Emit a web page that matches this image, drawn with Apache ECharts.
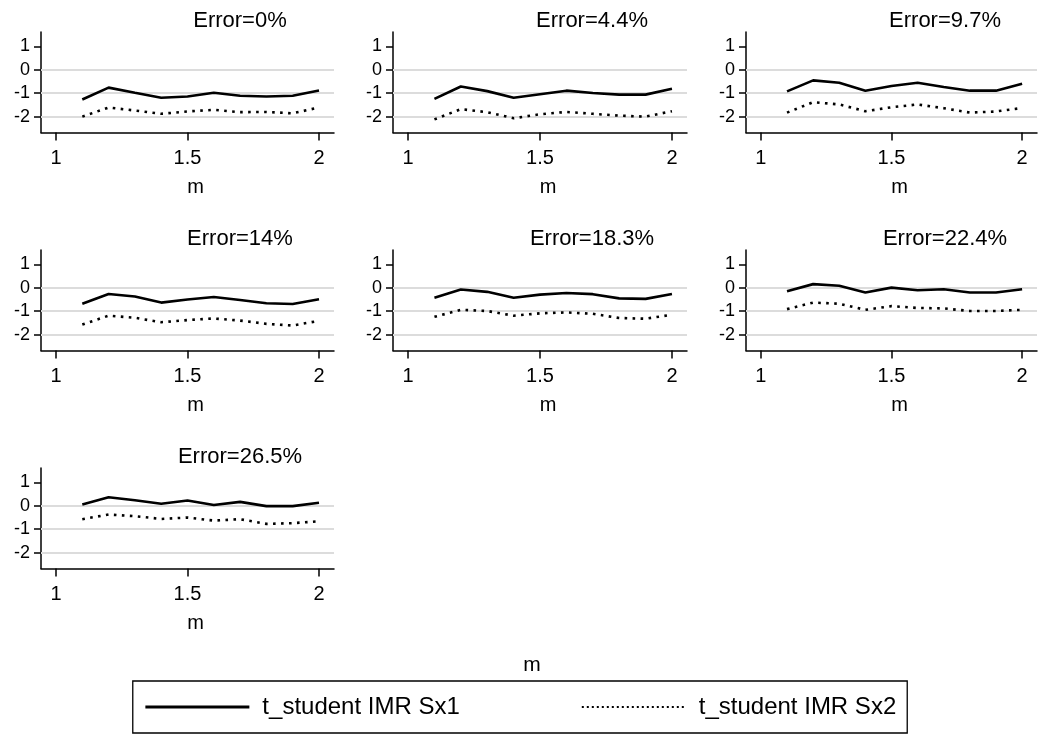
<!DOCTYPE html>
<html>
<head>
<meta charset="utf-8">
<script src="https://cdn.jsdelivr.net/npm/echarts@6/dist/echarts.min.js"></script>
<style>
html,body{margin:0;padding:0;background:#fff;}
#chart{width:1040px;height:736px;}
</style>
</head>
<body>
<div id="chart"></div>
<script>
// ---- data ----
const xs = [1.1, 1.2, 1.3, 1.4, 1.5, 1.6, 1.7, 1.8, 1.9, 2.0];
const panelTitles = ['Error=0%', 'Error=4.4%', 'Error=9.7%', 'Error=14%', 'Error=18.3%', 'Error=22.4%', 'Error=26.5%'];
const seriesNames = ['t_student IMR Sx1', 't_student IMR Sx2'];
const xTicks = [1, 1.5, 2];
const yTicks = [1, 0, -1, -2];
const gridVals = [0, -1, -2];
const xAxisTitle = 'm';

const sx1_0   = [-1.27, -0.76, -0.98, -1.19, -1.14, -0.98, -1.11, -1.14, -1.11, -0.88];
const sx2_0   = [-2.00, -1.61, -1.74, -1.88, -1.78, -1.71, -1.81, -1.80, -1.86, -1.61];
const sx1_44  = [-1.24, -0.71, -0.91, -1.19, -1.04, -0.89, -0.99, -1.06, -1.06, -0.81];
const sx2_44  = [-2.12, -1.68, -1.81, -2.07, -1.90, -1.80, -1.88, -1.96, -2.00, -1.77];
const sx1_97  = [-0.92, -0.45, -0.55, -0.89, -0.69, -0.55, -0.73, -0.89, -0.89, -0.59];
const sx2_97  = [-1.83, -1.38, -1.48, -1.77, -1.60, -1.48, -1.64, -1.83, -1.78, -1.63];
const sx1_14  = [-0.68, -0.26, -0.37, -0.63, -0.50, -0.39, -0.52, -0.66, -0.69, -0.49];
const sx2_14  = [-1.57, -1.19, -1.28, -1.47, -1.38, -1.31, -1.40, -1.54, -1.61, -1.41];
const sx1_183 = [-0.42, -0.07, -0.17, -0.42, -0.29, -0.22, -0.27, -0.45, -0.47, -0.26];
const sx2_183 = [-1.24, -0.94, -0.99, -1.19, -1.09, -1.05, -1.11, -1.29, -1.32, -1.15];
const sx1_224 = [-0.14, 0.16, 0.09, -0.20, 0.01, -0.10, -0.06, -0.20, -0.20, -0.06];
const sx2_224 = [-0.91, -0.63, -0.68, -0.94, -0.78, -0.86, -0.88, -0.99, -0.99, -0.94];
const sx1_265 = [0.06, 0.37, 0.24, 0.09, 0.23, 0.04, 0.17, -0.01, -0.01, 0.13];
const sx2_265 = [-0.57, -0.37, -0.44, -0.56, -0.50, -0.63, -0.57, -0.77, -0.74, -0.66];

const panelSx1 = [sx1_0, sx1_44, sx1_97, sx1_14, sx1_183, sx1_224, sx1_265];
const panelSx2 = [sx2_0, sx2_44, sx2_97, sx2_14, sx2_183, sx2_224, sx2_265];

// ---- layout ----
const FONT = 'Liberation Sans, Arial, sans-serif';
const colLeft = [41, 393, 746];
const colWidth = [293, 294, 291];
const rowTop = [32, 250, 468];
const plotH = 100.5;
const xMin = 0.943, xMax = 2.057;
const yMin = -2.68, yMax = 1.62;

const grids = [], xAxes = [], yAxes = [], series = [], graphics = [];
panelTitles.forEach((t, i) => {
  const r = Math.floor(i / 3), c = i % 3;
  grids.push({left: colLeft[c], top: rowTop[r], width: colWidth[c], height: plotH, containLabel: false});
  xAxes.push({
    type: 'value', gridIndex: i, min: xMin, max: xMax,
    axisLine: {show: true, onZero: false, lineStyle: {color: '#000', width: 1.5}},
    axisTick: {show: true, customValues: xTicks, length: 8, lineStyle: {color: '#000', width: 1.5}},
    axisLabel: {customValues: xTicks, color: '#000', fontSize: 20, fontFamily: FONT, margin: 16},
    splitLine: {show: false},
    name: xAxisTitle, nameLocation: 'middle', nameGap: 45,
    nameTextStyle: {color: '#000', fontSize: 20, fontFamily: FONT, padding: [0, 0, 0, 16]}
  });
  yAxes.push({
    type: 'value', gridIndex: i, min: yMin, max: yMax,
    axisLine: {show: true, lineStyle: {color: '#000', width: 1.5}},
    axisTick: {show: true, customValues: yTicks, length: 7, lineStyle: {color: '#000', width: 1.5}},
    axisLabel: {customValues: yTicks, color: '#000', fontSize: 18, fontFamily: FONT, margin: 11},
    splitLine: {show: false}
  });
  series.push({
    type: 'line', name: seriesNames[0], xAxisIndex: i, yAxisIndex: i,
    data: xs.map((x, k) => [x, panelSx1[i][k]]),
    symbol: 'none', z: 3,
    lineStyle: {color: '#000', width: 2.6, type: 'solid'},
    itemStyle: {color: '#000'},
    markLine: {
      silent: true, symbol: 'none', z: 1, animation: false,
      label: {show: false},
      lineStyle: {color: '#dcdcdc', width: 2, type: 'solid'},
      emphasis: {disabled: true},
      data: gridVals.map(v => ({yAxis: v}))
    }
  });
  series.push({
    type: 'line', name: seriesNames[1], xAxisIndex: i, yAxisIndex: i,
    data: xs.map((x, k) => [x, panelSx2[i][k]]),
    symbol: 'none', z: 3,
    lineStyle: {color: '#000', width: 2.6, type: [2.6, 5.4]},
    itemStyle: {color: '#000'}
  });
  graphics.push({
    type: 'text', x: colLeft[c] + 199, y: rowTop[r] - 11,
    style: {text: t, fill: '#000', font: '22px ' + FONT, align: 'center', verticalAlign: 'middle'}
  });
});

graphics.push({
  type: 'text', x: 532, y: 665,
  style: {text: xAxisTitle, fill: '#000', font: '21px ' + FONT, align: 'center', verticalAlign: 'middle'}
});

const option = {
  animation: false,
  backgroundColor: '#fff',
  grid: grids, xAxis: xAxes, yAxis: yAxes, series: series,
  graphic: graphics,
  legend: {
    data: [
      {name: seriesNames[0], lineStyle: {width: 3.2, type: 'solid'}},
      {name: seriesNames[1], lineStyle: {width: 2, type: [2, 3]}}
    ],
    left: 'center', top: 681,
    orient: 'horizontal',
    padding: [14, 11, 14, 11], itemGap: 121,
    itemWidth: 104, itemHeight: 2,
    itemStyle: {color: 'rgba(0,0,0,0)', borderWidth: 0, opacity: 0},
    borderColor: '#000', borderWidth: 1.3,
    textStyle: {color: '#000', fontSize: 24, fontFamily: FONT, padding: [0, 0, 0, 8]},
    selectedMode: false
  }
};
const chart = echarts.init(document.getElementById('chart'), null, {renderer: 'canvas'});
chart.setOption(option);
</script>
</body>
</html>
